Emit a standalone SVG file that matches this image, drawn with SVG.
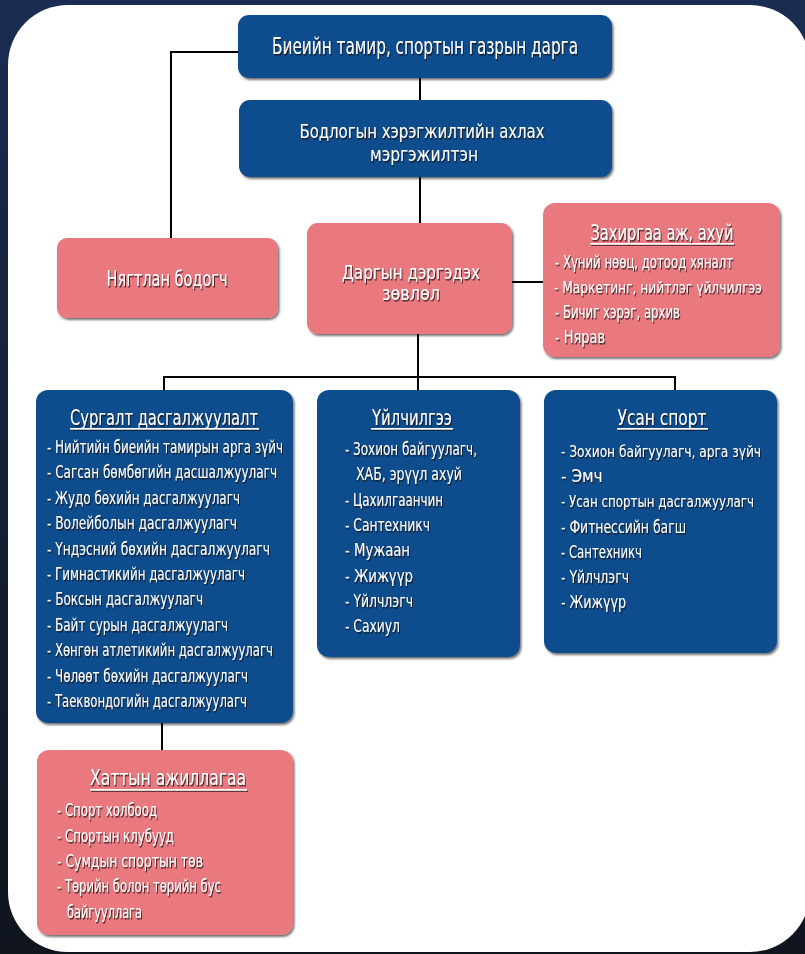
<svg xmlns="http://www.w3.org/2000/svg" width="805" height="954" viewBox="0 0 805 954">
<defs>
<linearGradient id="bg" x1="0" y1="0" x2="0" y2="1">
<stop offset="0" stop-color="#1b2c52"/>
<stop offset="1" stop-color="#0f141d"/>
</linearGradient>
<filter id="bs" x="-10%" y="-10%" width="125%" height="130%">
<feDropShadow dx="1.5" dy="2" stdDeviation="1.2" flood-color="#000" flood-opacity="0.55"/>
</filter>
<filter id="ts" x="-5%" y="-30%" width="115%" height="180%">
<feDropShadow dx="1" dy="1.5" stdDeviation="0.4" flood-color="#1a0d10" flood-opacity="0.8"/>
</filter>
<style>
.blue{fill:#0b4d8e;filter:url(#bs)}
.pink{fill:#e9787f;filter:url(#bs)}
text{fill:#fff;font-family:"Liberation Sans Narrow","DejaVu Sans Condensed","Liberation Sans",sans-serif;font-stretch:condensed;filter:url(#ts)}
.h{font-size:23px;text-anchor:middle}
.h2{font-size:20px;text-anchor:middle}
.t{font-size:22px;text-anchor:middle}
.t2{font-size:19px;text-anchor:middle}
.i{font-size:17px}
.s{font-size:15.5px}
.ul{fill:#fff;filter:url(#ts)}
.c{stroke:#000;stroke-width:2;fill:none}
</style>
</defs>
<rect x="0" y="0" width="805" height="954" fill="url(#bg)"/>
<rect x="8" y="5" width="802" height="947" rx="60" ry="60" fill="#fff"/>

<g id="connectors">
<polyline class="c" points="238,52 171,52 171,238"/>
<line class="c" x1="420" y1="78" x2="420" y2="100"/>
<line class="c" x1="420" y1="177" x2="420" y2="223"/>
<line class="c" x1="512" y1="282" x2="543" y2="282"/>
<line class="c" x1="418" y1="334" x2="418" y2="390"/>
<line class="c" x1="163" y1="377" x2="676" y2="377"/>
<line class="c" x1="164" y1="376" x2="164" y2="390"/>
<line class="c" x1="675" y1="376" x2="675" y2="390"/>
<line class="c" x1="162" y1="723" x2="162" y2="750"/>
</g>

<g id="head">
<rect class="blue" x="238" y="15" width="374" height="63" rx="11"/>
<text class="h" x="425" y="54" textLength="306" lengthAdjust="spacingAndGlyphs">Биеийн тамир, спортын газрын дарга</text>
</g>

<g id="policy">
<rect class="blue" x="239" y="100" width="373" height="77" rx="11"/>
<text class="h2" x="422" y="138" textLength="245" lengthAdjust="spacingAndGlyphs">Бодлогын хэрэгжилтийн ахлах</text>
<text class="h2" x="424" y="161" textLength="108" lengthAdjust="spacingAndGlyphs">мэргэжилтэн</text>
</g>

<g id="accountant">
<rect class="pink" x="57" y="238" width="221" height="80" rx="10"/>
<text class="t" x="167" y="286" textLength="121" lengthAdjust="spacingAndGlyphs">Нягтлан бодогч</text>
</g>

<g id="council">
<rect class="pink" x="307" y="223" width="205" height="111" rx="11"/>
<text class="t2" x="411" y="279" textLength="138" lengthAdjust="spacingAndGlyphs">Даргын дэргэдэх</text>
<text class="t2" x="411" y="300" textLength="58" lengthAdjust="spacingAndGlyphs">зөвлөл</text>
</g>

<g id="admin">
<rect class="pink" x="543" y="203" width="237" height="154" rx="12"/>
<text class="t" x="662" y="240" textLength="143" lengthAdjust="spacingAndGlyphs">Захиргаа аж, ахуй</text>
<rect class="ul" x="590" y="243" width="144" height="1.6"/>
<text class="i" x="555" y="268" textLength="178" lengthAdjust="spacingAndGlyphs">- Хүний нөөц, дотоод хяналт</text>
<text class="s" x="554" y="293" textLength="208" lengthAdjust="spacingAndGlyphs">- Маркетинг, нийтлэг үйлчилгээ</text>
<text class="i" x="555" y="318" textLength="125" lengthAdjust="spacingAndGlyphs">- Бичиг хэрэг, архив</text>
<text class="i" x="555" y="343" textLength="50" lengthAdjust="spacingAndGlyphs">- Нярав</text>
</g>

<g id="training">
<rect class="blue" x="36" y="390" width="257" height="333" rx="12"/>
<text class="t" x="164" y="425" textLength="188" lengthAdjust="spacingAndGlyphs">Сургалт дасгалжуулалт</text>
<rect class="ul" x="70" y="428" width="189" height="1.6"/>
<text class="i" x="47" y="453" textLength="236" lengthAdjust="spacingAndGlyphs">- Нийтийн биеийн тамирын арга зүйч</text>
<text class="i" x="47" y="478.4" textLength="230" lengthAdjust="spacingAndGlyphs">- Сагсан бөмбөгийн дасшалжуулагч</text>
<text class="i" x="47" y="503.8" textLength="193" lengthAdjust="spacingAndGlyphs">- Жудо бөхийн дасгалжуулагч</text>
<text class="i" x="47" y="529.2" textLength="190" lengthAdjust="spacingAndGlyphs">- Волейболын дасгалжуулагч</text>
<text class="i" x="47" y="554.6" textLength="223" lengthAdjust="spacingAndGlyphs">- Үндэсний бөхийн дасгалжуулагч</text>
<text class="i" x="47" y="580" textLength="198" lengthAdjust="spacingAndGlyphs">- Гимнастикийн дасгалжуулагч</text>
<text class="i" x="47" y="605.4" textLength="156" lengthAdjust="spacingAndGlyphs">- Боксын дасгалжуулагч</text>
<text class="i" x="47" y="630.8" textLength="181" lengthAdjust="spacingAndGlyphs">- Байт сурын дасгалжуулагч</text>
<text class="i" x="47" y="656.2" textLength="226" lengthAdjust="spacingAndGlyphs">- Хөнгөн атлетикийн дасгалжуулагч</text>
<text class="i" x="47" y="681.6" textLength="201" lengthAdjust="spacingAndGlyphs">- Чөлөөт бөхийн дасгалжуулагч</text>
<text class="i" x="47" y="707" textLength="200" lengthAdjust="spacingAndGlyphs">- Таеквондогийн дасгалжуулагч</text>
</g>

<g id="service">
<rect class="blue" x="317" y="390" width="203" height="267" rx="12"/>
<text class="t" x="412" y="425" textLength="80" lengthAdjust="spacingAndGlyphs">Үйлчилгээ</text>
<rect class="ul" x="371" y="428" width="82" height="1.6"/>
<text class="i" x="345" y="455" textLength="132" lengthAdjust="spacingAndGlyphs">- Зохион байгуулагч,</text>
<text class="i" x="356" y="480.3" textLength="106" lengthAdjust="spacingAndGlyphs">ХАБ, эрүүл ахуй</text>
<text class="i" x="345" y="505.6" textLength="98" lengthAdjust="spacingAndGlyphs">- Цахилгаанчин</text>
<text class="i" x="345" y="530.9" textLength="85" lengthAdjust="spacingAndGlyphs">- Сантехникч</text>
<text class="i" x="345" y="556.2" textLength="65" lengthAdjust="spacingAndGlyphs">- Мужаан</text>
<text class="i" x="345" y="581.5" textLength="68" lengthAdjust="spacingAndGlyphs">- Жижүүр</text>
<text class="i" x="345" y="606.8" textLength="68" lengthAdjust="spacingAndGlyphs">- Үйлчлэгч</text>
<text class="i" x="345" y="632.1" textLength="55" lengthAdjust="spacingAndGlyphs">- Сахиул</text>
</g>

<g id="swimming">
<rect class="blue" x="544" y="390" width="233" height="263" rx="12"/>
<text class="t" x="662" y="425" textLength="89" lengthAdjust="spacingAndGlyphs">Усан спорт</text>
<rect class="ul" x="617" y="428" width="91" height="1.6"/>
<text class="s" x="561" y="457" textLength="200" lengthAdjust="spacingAndGlyphs">- Зохион байгуулагч, арга зүйч</text>
<text class="i" x="561" y="482.2">- Эмч</text>
<text class="s" x="561" y="507.4" textLength="193" lengthAdjust="spacingAndGlyphs">- Усан спортын дасгалжуулагч</text>
<text class="i" x="561" y="532.6" textLength="125" lengthAdjust="spacingAndGlyphs">- Фитнессийн багш</text>
<text class="i" x="561" y="557.8" textLength="81" lengthAdjust="spacingAndGlyphs">- Сантехникч</text>
<text class="i" x="561" y="583" textLength="68" lengthAdjust="spacingAndGlyphs">- Үйлчлэгч</text>
<text class="i" x="561" y="608.2" textLength="65" lengthAdjust="spacingAndGlyphs">- Жижүүр</text>
</g>

<g id="external">
<rect class="pink" x="37" y="750" width="256" height="185" rx="12"/>
<text class="t" x="168" y="785" textLength="156" lengthAdjust="spacingAndGlyphs">Хаттын ажиллагаа</text>
<rect class="ul" x="90" y="789" width="157" height="1.6"/>
<text class="i" x="57" y="816" textLength="100" lengthAdjust="spacingAndGlyphs">- Спорт холбоод</text>
<text class="i" x="57" y="842" textLength="117" lengthAdjust="spacingAndGlyphs">- Спортын клубууд</text>
<text class="i" x="57" y="867" textLength="146" lengthAdjust="spacingAndGlyphs">- Сумдын спортын төв</text>
<text class="i" x="57" y="892" textLength="164" lengthAdjust="spacingAndGlyphs">- Төрийн болон төрийн бус</text>
<text class="i" x="67" y="918" textLength="75" lengthAdjust="spacingAndGlyphs">байгууллага</text>
</g>
</svg>
